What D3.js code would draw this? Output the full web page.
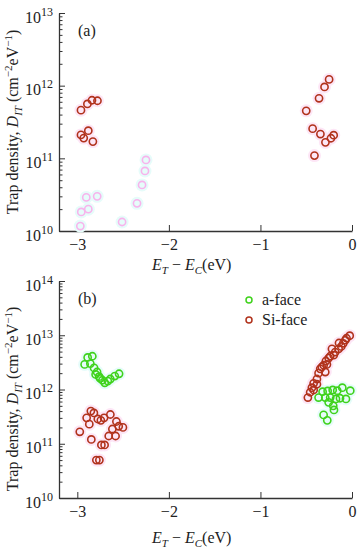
<!DOCTYPE html>
<html lang="en">
<head>
  <meta charset="UTF-8">
  <title>Trap density vs energy</title>
  <script src="https://cdn.jsdelivr.net/npm/d3@7"></script>
  <style>
    body { margin: 0; background: #fff; }
    svg text { font-family: 'Liberation Serif', 'DejaVu Serif', serif; fill: #222; }
  </style>
</head>
<body>
  <svg id="chart" width="362" height="550"></svg>
  <script>
    // panel (a): Si-face points
    const siFaceA = [
      [-2.96, 4.6e11], [-2.89, 5.6e11], [-2.84, 6.3e11], [-2.78, 6.2e11],
      [-2.96, 2.1e11], [-2.93, 1.9e11], [-2.88, 2.4e11], [-2.83, 1.7e11],
      [-0.25, 1.22e12], [-0.30, 9.6e11], [-0.36, 6.7e11], [-0.50, 4.5e11],
      [-0.43, 2.56e11], [-0.345, 2.16e11], [-0.20, 2.08e11], [-0.23, 1.89e11],
      [-0.29, 1.66e11], [-0.41, 1.09e11]
    ]
    // faint leftover markers visible in panel (a)
    const ghostA = [
      [-2.967, 1.17e10], [-2.957, 1.83e10], [-2.88, 2.0e10], [-2.902, 2.9e10],
      [-2.783, 3.0e10], [-2.511, 1.33e10], [-2.348, 2.4e10], [-2.293, 4.3e10],
      [-2.261, 6.7e10], [-2.25, 9.5e10]
    ]
    // panel (b)
    const siFaceB = [
      [-2.852, 4.0e11], [-2.819, 3.7e11], [-2.898, 3.0e11], [-2.869, 2.3e11],
      [-2.776, 2.86e11], [-2.743, 2.7e11], [-2.708, 3.0e11], [-2.639, 3.46e11],
      [-2.573, 2.57e11], [-2.548, 2.1e11], [-2.502, 2.0e11], [-2.617, 1.87e11],
      [-2.582, 1.39e11], [-2.657, 1.39e11], [-2.973, 1.66e11], [-2.847, 1.2e11],
      [-2.737, 9.5e10], [-2.702, 9.5e10], [-2.792, 5.0e10], [-2.759, 5.0e10],
      [-0.025, 9.8e12], [-0.06, 8.8e12], [-0.073, 8.1e12], [-0.095, 7.1e12],
      [-0.117, 6.2e12], [-0.142, 7.2e12], [-0.146, 5.6e12], [-0.183, 4.9e12],
      [-0.20, 4.3e12], [-0.219, 5.6e12], [-0.238, 4.1e12], [-0.255, 3.8e12],
      [-0.285, 3.35e12], [-0.274, 2.9e12], [-0.31, 2.8e12], [-0.33, 2.6e12],
      [-0.347, 2.4e12], [-0.292, 2.1e12], [-0.365, 2.0e12], [-0.383, 1.56e12],
      [-0.383, 1.25e12], [-0.419, 1.3e12], [-0.438, 1.08e12], [-0.419, 9.8e11],
      [-0.457, 8.9e11], [-0.482, 7.1e11]
    ]
    const aFaceB = [
      [-2.92, 2.9e12], [-2.887, 3.9e12], [-2.836, 4.1e12], [-2.858, 3.0e12],
      [-2.817, 2.5e12], [-2.80, 1.9e12], [-2.784, 2.1e12], [-2.762, 1.72e12],
      [-2.75, 1.6e12], [-2.726, 1.48e12], [-2.70, 1.33e12], [-2.667, 1.43e12],
      [-2.64, 1.56e12], [-2.591, 1.77e12], [-2.544, 1.95e12],
      [-0.365, 7.1e11], [-0.321, 9.1e11], [-0.266, 9.4e11], [-0.211, 9.8e11],
      [-0.161, 9.5e11], [-0.106, 1.08e12], [-0.019, 9.5e11], [-0.292, 7.1e11],
      [-0.238, 7.1e11], [-0.175, 6.7e11], [-0.131, 6.9e11], [-0.066, 6.7e11],
      [-0.255, 5.8e11], [-0.205, 5.0e11], [-0.197, 4.2e11], [-0.31, 3.4e11],
      [-0.27, 2.7e11]
    ]
    const xTicks = [-3, -2, -1, 0]
    const legendLabels = ['a-face', 'Si-face']

    const colors = { si: '#b1321c', a: '#3fd21c', siHalo: '#fde6f6', aHalo: '#e6fcfa', ghost: '#f7b4ec' }
    const svg = d3.select('#chart')
    const fmtMinus = d => d < 0 ? '\u2212' + Math.abs(d) : String(d)

    function panel(opts) {
      const x = d3.scaleLinear().domain([-3.2, 0]).range([59, 352])
      const y = d3.scaleLog().domain(opts.yDomain).range(opts.yRange)
      const g = svg.append('g')

      const lo = Math.log10(opts.yDomain[0]), hi = Math.log10(opts.yDomain[1])
      const majors = d3.range(lo, hi + 1).map(e => Math.pow(10, e))
      const minors = []
      d3.range(lo, hi).forEach(e => { for (let m = 2; m < 10; m++) minors.push(m * Math.pow(10, e)) })

      // y axis, ticks pointing inward
      g.append('g')
        .attr('transform', 'translate(59,0)')
        .call(d3.axisLeft(y).tickValues(minors).tickSize(-3.5).tickFormat(''))
        .call(a => a.select('.domain').remove())
      const yAx = g.append('g')
        .attr('transform', 'translate(59,0)')
        .call(d3.axisLeft(y).tickValues(majors).tickSize(-6).tickSizeOuter(0).tickPadding(6).tickFormat(''))
      yAx.selectAll('.tick text').each(function (d) {
        const t = d3.select(this).attr('dy', null).attr('y', 9).attr('font-size', 16)
        t.append('tspan').text('10')
        t.append('tspan').attr('dy', -7).attr('font-size', 12).text(Math.round(Math.log10(d)))
      })

      // x axis, ticks pointing up
      const xAx = g.append('g')
        .attr('transform', `translate(0,${opts.yRange[0]})`)
        .call(d3.axisBottom(x).tickValues(xTicks).tickSize(-6).tickSizeOuter(0).tickPadding(0).tickFormat(fmtMinus))
      xAx.selectAll('.tick text').attr('dy', null).attr('y', 19).attr('font-size', 16)

      g.selectAll('.domain').attr('stroke', '#333').attr('stroke-width', 1.3)
      g.selectAll('.tick line').attr('stroke', '#333').attr('stroke-width', 1)

      // axis titles
      const xt = g.append('text')
        .attr('x', 152).attr('y', opts.yRange[0] + opts.titleGap)
        .attr('font-size', 16)
      xt.append('tspan').attr('font-style', 'italic').text('E')
      xt.append('tspan').attr('font-style', 'italic').attr('font-size', 11).attr('dy', 4).text('T')
      xt.append('tspan').attr('dy', -4).text(' \u2212 ')
      xt.append('tspan').attr('font-style', 'italic').text('E')
      xt.append('tspan').attr('font-style', 'italic').attr('font-size', 11).attr('dy', 4).text('C')
      xt.append('tspan').attr('dy', -4).text('(eV)')

      const yt = g.append('text')
        .attr('transform', `translate(18,${opts.yTitleY}) rotate(-90)`)
        .attr('text-anchor', 'middle')
        .attr('font-size', 16)
      yt.append('tspan').text('Trap density, ')
      yt.append('tspan').attr('font-style', 'italic').text('D')
      yt.append('tspan').attr('font-style', 'italic').attr('font-size', 11).attr('dy', 4).text('IT')
      yt.append('tspan').attr('dy', -4).text(' (cm')
      yt.append('tspan').attr('font-size', 11).attr('dy', -6).text('\u22122')
      yt.append('tspan').attr('dy', 6).text('eV')
      yt.append('tspan').attr('font-size', 11).attr('dy', -6).text('\u22121')
      yt.append('tspan').attr('dy', 6).text(')')

      g.append('text').attr('x', 78).attr('y', opts.yRange[1] + 23)
        .attr('font-size', 16).text(opts.label)

      // halos, then markers
      opts.series.forEach(s => {
        g.append('g').selectAll('circle').data(s.data).join('circle')
          .attr('cx', d => x(d[0])).attr('cy', d => y(d[1]))
          .attr('r', 6.5).attr('fill', s.halo).attr('stroke', 'none')
      })
      opts.series.forEach(s => {
        g.append('g').selectAll('circle').data(s.data).join('circle')
          .attr('cx', d => x(d[0])).attr('cy', d => y(d[1]))
          .attr('r', 3.6).attr('fill', 'none')
          .attr('stroke', s.color).attr('stroke-width', 1.6)
      })
      return g
    }

    panel({
      yDomain: [1e10, 1e13], yRange: [231, 13], titleGap: 39, yTitleY: 122, label: '(a)',
      series: [
        { data: ghostA, color: colors.ghost, halo: colors.aHalo },
        { data: siFaceA, color: colors.si, halo: colors.siHalo }
      ]
    })

    const gb = panel({
      yDomain: [1e10, 1e14], yRange: [498, 281], titleGap: 45, yTitleY: 399, label: '(b)',
      series: [
        { data: siFaceB, color: colors.si, halo: colors.siHalo },
        { data: aFaceB, color: colors.a, halo: colors.aHalo }
      ]
    })

    // legend
    const leg = gb.append('g').selectAll('g').data(legendLabels).join('g')
      .attr('transform', (d, i) => `translate(249,${300 + i * 20})`)
    leg.append('circle').attr('r', 3).attr('fill', 'none')
      .attr('stroke', (d, i) => i === 0 ? colors.a : colors.si).attr('stroke-width', 1.5)
    leg.append('text').attr('x', 13).attr('y', 5).attr('font-size', 16).text(d => d)
  </script>
</body>
</html>
